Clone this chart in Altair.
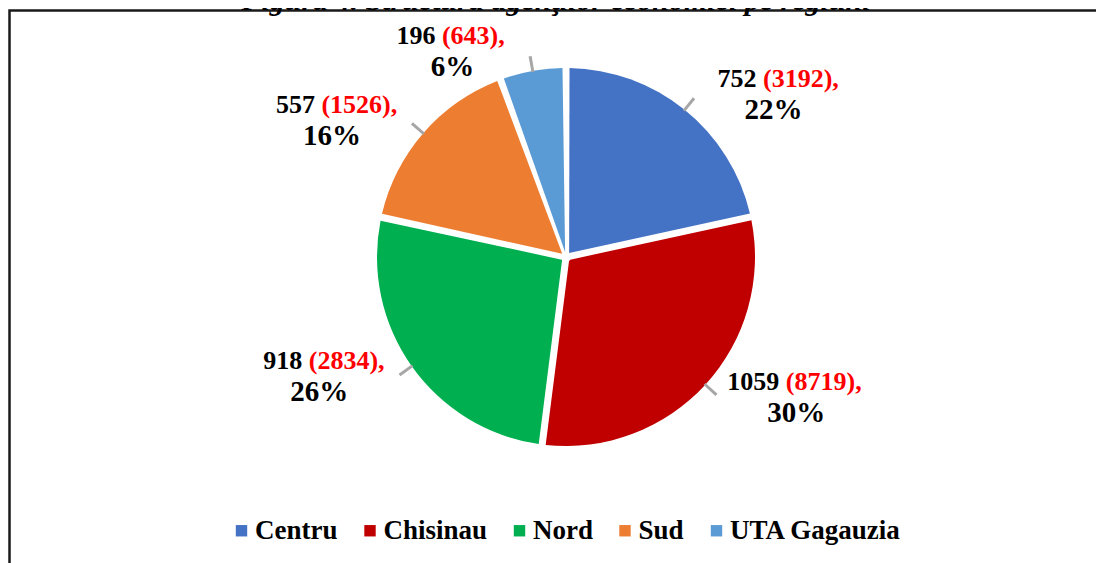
import altair as alt
import pandas as pd

# ---- data ----
categories = ["Centru", "Chisinau", "Nord", "Sud", "UTA Gagauzia"]
agents = [752, 1059, 918, 557, 196]          # black numbers
agents_paren = [3192, 8719, 2834, 1526, 643]  # red numbers in parentheses
colors = ["#4472C4", "#C00000", "#00B050", "#ED7D31", "#5B9BD5"]
title_text = "Figura 4. Structura agenţilor economici pe regiuni"

FONT = "Liberation Serif"
CX, CY = 558, 249          # pie centre (view coordinates)
R_OUT, R_IN = 189, 5
LABEL_R = 208
SIDE_DX = 77
F1, F2 = 26, 29            # label line font sizes

df = pd.DataFrame({
    "region": categories,
    "value": agents,
    "paren": agents_paren,
    "order": list(range(len(categories))),
})

theta_scale = alt.Scale(domain=[0, sum(agents)], nice=False, zero=True)

base = (
    alt.Chart(df)
    .transform_joinaggregate(total="sum(value)")
    .transform_window(end="sum(value)", sort=[alt.SortField("order")], frame=[None, 0])
    .transform_calculate(
        start="datum.end - datum.value",
        mid="(datum.end - datum.value / 2)",
        side="datum.mid < datum.total / 2 ? 1 : -1",
        t0="datum.mid - datum.total * 0.0012",
        t1="datum.mid + datum.total * 0.0012",
        num_txt="'' + datum.value",
        paren_txt="'(' + datum.paren + '),'",
        pct_txt="round(datum.value / datum.total * 100) + '%'",
    )
)

center = dict(x=alt.value(CX), y=alt.value(CY))

pie = base.mark_arc(outerRadius=R_OUT, innerRadius=R_IN, padAngle=0.037).encode(
    theta=alt.Theta("start:Q", scale=theta_scale, stack=None),
    theta2="end:Q",
    color=alt.Color(
        "region:N",
        scale=alt.Scale(domain=categories, range=colors),
        legend=alt.Legend(
            orient="none", legendX=220, legendY=509, direction="horizontal",
            title=None, symbolType="square", symbolSize=130, symbolStrokeWidth=0,
            labelFont=FONT, labelFontSize=27, labelFontWeight="bold",
            labelColor="black", labelOffset=0, columnPadding=18.5, labelLimit=400,
        ),
    ),
    **center,
)

leader = base.mark_arc(outerRadius=LABEL_R - 4, innerRadius=R_OUT - 1, color="#A6A6A6").encode(
    theta=alt.Theta("t0:Q", scale=theta_scale, stack=None),
    theta2="t1:Q",
    **center,
)

texts = []
for side in (1, -1):
    sub = base.transform_filter(f"datum.side == {side}")
    dxc = side * SIDE_DX
    enc = dict(theta=alt.Theta("mid:Q", scale=theta_scale, stack=None), **center)
    texts.append(sub.mark_text(radius=LABEL_R, dx=dxc - 17, dy=-16, align="right", baseline="middle",
                               font=FONT, fontSize=F1, fontWeight="bold", color="black")
                 .encode(text="num_txt:N", **enc))
    texts.append(sub.mark_text(radius=LABEL_R, dx=dxc - 10.5, dy=-16, align="left", baseline="middle",
                               font=FONT, fontSize=F1, fontWeight="bold", color="#FF0000")
                 .encode(text="paren_txt:N", **enc))
    texts.append(sub.mark_text(radius=LABEL_R, dx=dxc, dy=15, align="center", baseline="middle",
                               font=FONT, fontSize=F2, fontWeight="bold", color="black")
                 .encode(text="pct_txt:N", **enc))

one = pd.DataFrame({"t": [title_text]})
border = alt.Chart(one).mark_rect(fillOpacity=0, stroke="#1a1a1a", strokeWidth=2.5).encode(
    x=alt.value(1.5), y=alt.value(2.5), x2=alt.value(1400), y2=alt.value(900)
)
title = alt.Chart(one).mark_text(font=FONT, fontSize=30, fontWeight="bold", fontStyle="italic",
                                 align="center", baseline="alphabetic", color="black").encode(
    text="t:N", x=alt.value(548), y=alt.value(1.5)
)

chart = (
    alt.layer(border, pie, leader, *texts, title)
    .properties(width=1088, height=555, autosize=alt.AutoSizeParams(type="none"), padding=0)
    .configure_view(stroke=None)
)

chart.save("out.html", embed_options={"renderer": "svg", "actions": False})
